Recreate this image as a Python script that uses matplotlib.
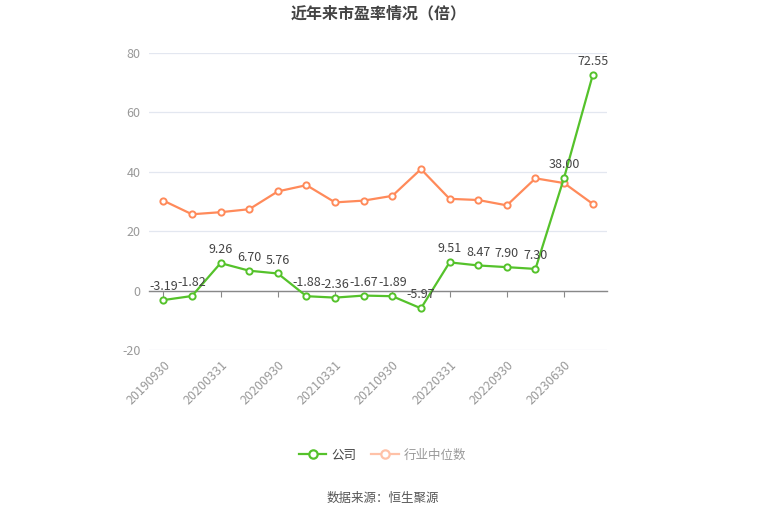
import matplotlib
matplotlib.use("Agg")
import matplotlib.pyplot as plt
from matplotlib.lines import Line2D

plt.rcParams['font.family'] = ['Noto Sans CJK SC', 'DejaVu Sans']

dates = ["20190930", "20191231", "20200331", "20200630", "20200930", "20201231",
         "20210331", "20210630", "20210930", "20211231", "20220331", "20220630",
         "20220930", "20221231", "20230630", "20230930"]
company = [-3.19, -1.82, 9.26, 6.70, 5.76, -1.88, -2.36, -1.67, -1.89, -5.97,
           9.51, 8.47, 7.90, 7.30, 38.00, 72.55]
industry = [30.3, 25.7, 26.4, 27.4, 33.4, 35.5, 29.7, 30.3, 31.9, 40.9,
            30.9, 30.5, 28.7, 37.8, 36.2, 29.2]
yticks = [-20, 0, 20, 40, 60, 80]

GREEN = "#55C22B"
ORANGE = "#FF8A5A"

fig = plt.figure(figsize=(7.65, 5.17), dpi=100)
ax = fig.add_axes([0.1948, 0.323, 0.5987, 0.5745])

x = list(range(len(dates)))
ax.plot(x, industry, color=ORANGE, lw=1.6, marker='o', ms=4.5, mfc='white',
        mec=ORANGE, mew=1.4, zorder=3)
ax.plot(x, company, color=GREEN, lw=1.6, marker='o', ms=4.5, mfc='white',
        mec=GREEN, mew=1.4, zorder=4)

for xi, v in zip(x, company):
    ax.annotate(f"{v:.2f}", (xi, v), xytext=(0, 5), textcoords='offset points',
                ha='center', va='bottom', fontsize=9, color='#444444', zorder=5)

ax.set_xlim(-0.5, len(dates) - 0.5)
ax.set_ylim(-20, 80)
ax.set_yticks(yticks)
ax.set_yticklabels([str(v) for v in yticks])
ax.grid(axis='y', color='#E3E7F0', lw=0.9)
ax.set_axisbelow(True)
for s in ['left', 'right', 'top']:
    ax.spines[s].set_visible(False)
ax.spines['bottom'].set_position(('data', 0))
ax.spines['bottom'].set_color('#888888')
ax.spines['bottom'].set_linewidth(1.0)
ax.tick_params(axis='y', length=0, labelsize=9, labelcolor='#999999', pad=6)
ax.set_xticks(x[::2])
ax.tick_params(axis='x', length=4, color='#888888', labelbottom=False)

sec = ax.secondary_xaxis('bottom')
sec.spines['bottom'].set_visible(False)
sec.set_xticks(x[::2])
sec.set_xticklabels(dates[::2], rotation=45, ha='right', va='top',
                    rotation_mode='anchor')
sec.tick_params(axis='x', length=0, labelsize=9, labelcolor='#999999', pad=6)

fig.text(0.495, 0.975, "近年来市盈率情况（倍）", ha='center', va='center',
         fontsize=11.5, fontweight='bold', color='#444444')

handles = [Line2D([], [], color=GREEN, lw=1.6, marker='o', ms=6, mfc='white',
                  mec=GREEN, mew=1.6),
           Line2D([], [], color='#FFC2A8', lw=1.6, marker='o', ms=6, mfc='white',
                  mec='#FFC2A8', mew=1.6)]
leg = fig.legend(handles, ["公司", "行业中位数"], loc='center',
                 bbox_to_anchor=(0.5, 0.12), ncol=2, frameon=False,
                 fontsize=9, handlelength=2.2, columnspacing=1.2,
                 handletextpad=0.4)
leg.get_texts()[0].set_color('#444444')
leg.get_texts()[1].set_color('#999999')

fig.text(0.5, 0.036, "数据来源：恒生聚源", ha='center', va='center',
         fontsize=9, color='#555555')

fig.savefig("out.png", dpi=100)
